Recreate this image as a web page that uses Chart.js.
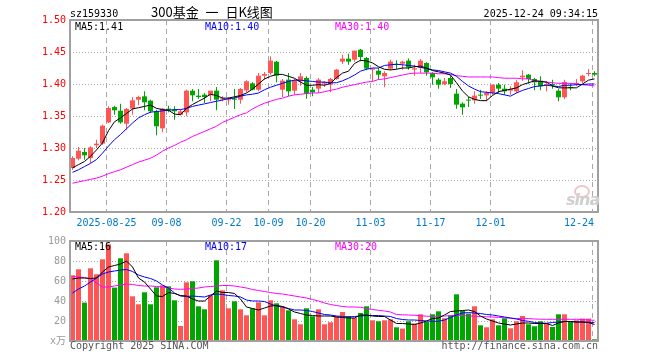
<!DOCTYPE html>
<html><head><meta charset="utf-8">
<script src="https://cdn.jsdelivr.net/npm/chart.js@4.4.1/dist/chart.umd.min.js"></script>
<style>
html,body{margin:0;padding:0;background:#fff;}
#wrap{position:relative;width:660px;height:360px;overflow:hidden;}
canvas{position:absolute;left:0;}
.t{position:absolute;white-space:pre;font-family:"DejaVu Sans Mono",monospace;font-size:10px;line-height:10px;color:#000;}
.cjk{font-family:"Noto Sans CJK SC",sans-serif;font-size:13px;line-height:13px;word-spacing:4px;}
</style></head>
<body><div id="wrap">
<canvas id="main" width="660" height="230" style="top:0"></canvas>
<canvas id="vol" width="660" height="130" style="top:230px"></canvas>
<div class="t" style="left:70px;top:8.5px">sz159330</div>
<div class="t cjk" style="left:151px;top:5px">300基金 一 日K线图</div>
<div class="t" style="right:62px;top:8.5px">2025-12-24 09:34:15</div>
<div class="t" style="left:75px;top:22px">MA5:1.41</div>
<div class="t" style="left:205px;top:22px;color:#0000ff">MA10:1.40</div>
<div class="t" style="left:335px;top:22px;color:#ff00ff">MA30:1.40</div>
<div class="t" style="left:75px;top:241.5px">MA5:16</div>
<div class="t" style="left:205px;top:241.5px;color:#0000ff">MA10:17</div>
<div class="t" style="left:335px;top:241.5px;color:#ff00ff">MA30:20</div>
<div class="t" style="left:70px;top:340.5px;color:#555">Copyright 2025 SINA.COM</div>
<div class="t" style="right:62px;top:340.5px;color:#555">http://finance.sina.com.cn</div>
<div style="position:absolute;left:574px;top:185px;width:12px;height:9px;border:2px solid #f3c4c4;border-radius:50%;"></div>
<div style="position:absolute;left:566px;top:190px;font:italic bold 16px 'DejaVu Sans',sans-serif;color:#cfcfcf;letter-spacing:-1px;">sina</div>
</div>
<script>
// ---- data ----
const dateTickIdx  = [6, 16, 26, 33, 40, 50, 60, 70, 87];
const dateTickText = ['2025-08-25','09-08','09-22','10-09','10-20','11-03','11-17','12-01','12-24'];
const priceTicks = [1.20, 1.25, 1.30, 1.35, 1.40, 1.45, 1.50];
const volTicks = [0, 20, 40, 60, 80, 100];
const volTickText = ['x万', '20', '40', '60', '80', '100'];

const opens = [1.2687,1.2833,1.2938,1.2844,1.3042,1.3068,1.3400,1.3640,1.3583,1.3380,
1.3615,1.3755,1.3807,1.3740,1.3573,1.3307,1.3615,1.3599,1.3520,1.3557,
1.3896,1.3818,1.3833,1.3823,1.3896,1.3760,1.3745,1.3766,1.3755,1.3901,
1.4010,1.3911,1.4130,1.4172,1.4349,1.3911,1.4068,1.3896,1.4042,1.4094,
1.3911,1.3927,1.4005,1.3990,1.4078,1.4349,1.4396,1.4380,1.4536,1.4406,
1.4224,1.4208,1.4120,1.4240,1.4313,1.4318,1.4365,1.4224,1.4250,1.4328,
1.4172,1.4068,1.4000,1.4094,1.3849,1.3693,1.3755,1.3745,1.3833,1.3823,
1.3860,1.3990,1.3927,1.3896,1.3885,1.4104,1.4146,1.4078,1.4052,1.3984,
1.4000,1.3896,1.3792,1.3953,1.4000,1.4042,1.4156,1.4172];
const closes = [1.2844,1.2958,1.2885,1.3010,1.3068,1.3349,1.3625,1.3589,1.3400,1.3610,
1.3745,1.3797,1.3714,1.3573,1.3339,1.3615,1.3589,1.3573,1.3573,1.3896,
1.3823,1.3797,1.3797,1.3896,1.3755,1.3776,1.3760,1.3755,1.3922,1.4042,
1.3911,1.4130,1.4156,1.4365,1.4130,1.4052,1.3885,1.4057,1.4120,1.3849,
1.3870,1.4068,1.4031,1.4078,1.4224,1.4396,1.4349,1.4521,1.4422,1.4240,
1.4234,1.4146,1.4172,1.4349,1.4297,1.4349,1.4260,1.4245,1.4365,1.4182,
1.4104,1.3990,1.4042,1.4000,1.3677,1.3635,1.3740,1.3818,1.3818,1.3860,
1.3990,1.3927,1.3885,1.3922,1.4026,1.4130,1.4078,1.4026,1.3964,1.4000,
1.3984,1.3792,1.4031,1.3938,1.4010,1.4130,1.4172,1.4146];
const highs = [1.2870,1.3016,1.3000,1.3026,1.3130,1.3365,1.3651,1.3660,1.3693,1.3625,
1.3797,1.3818,1.3885,1.3755,1.3599,1.3625,1.3661,1.3651,1.3599,1.3911,
1.3922,1.3922,1.3860,1.3896,1.3953,1.3807,1.3797,1.3922,1.3938,1.4057,
1.4026,1.4172,1.4188,1.4432,1.4360,1.4078,1.4172,1.4078,1.4172,1.4120,
1.3953,1.4094,1.4042,1.4094,1.4234,1.4458,1.4474,1.4521,1.4547,1.4422,
1.4245,1.4250,1.4198,1.4380,1.4370,1.4365,1.4400,1.4302,1.4390,1.4339,
1.4182,1.4094,1.4094,1.4130,1.3922,1.3714,1.3797,1.3885,1.3911,1.3885,
1.3990,1.4016,1.3990,1.3964,1.4057,1.4214,1.4156,1.4094,1.4120,1.4042,
1.4068,1.3922,1.4068,1.4016,1.4078,1.4146,1.4234,1.4198];
const lows = [1.2660,1.2807,1.2818,1.2766,1.3000,1.3052,1.3390,1.3520,1.3380,1.3286,
1.3520,1.3667,1.3589,1.3547,1.3198,1.3245,1.3557,1.3443,1.3510,1.3495,
1.3729,1.3766,1.3703,1.3729,1.3589,1.3729,1.3677,1.3610,1.3693,1.3870,
1.3901,1.3885,1.4068,1.4146,1.4026,1.3797,1.3807,1.3833,1.3974,1.3771,
1.3807,1.3859,1.3953,1.3870,1.4068,1.4313,1.4302,1.4349,1.4354,1.4214,
1.4042,1.4068,1.3948,1.4214,1.4234,1.4224,1.4224,1.4130,1.4172,1.4130,
1.3990,1.3927,1.3979,1.3938,1.3615,1.3520,1.3641,1.3693,1.3766,1.3729,
1.3833,1.3860,1.3833,1.3833,1.3860,1.4052,1.4005,1.3901,1.3901,1.3885,
1.3927,1.3729,1.3766,1.3901,1.3964,1.4016,1.4120,1.4120];
const ma5 = [1.269,1.274,1.279,1.287,1.297,1.308,1.327,1.341,1.347,1.354,
1.361,1.363,1.365,1.367,1.362,1.360,1.359,1.353,1.352,1.362,
1.368,1.373,1.378,1.384,1.382,1.378,1.378,1.380,1.382,1.386,
1.392,1.400,1.408,1.412,1.415,1.415,1.412,1.409,1.403,1.398,
1.398,1.399,1.398,1.401,1.410,1.417,1.420,1.432,1.437,1.436,
1.433,1.427,1.423,1.422,1.423,1.425,1.425,1.427,1.428,1.425,
1.421,1.419,1.417,1.414,1.402,1.389,1.380,1.376,1.374,1.374,
1.382,1.388,1.390,1.392,1.394,1.399,1.402,1.405,1.404,1.403,
1.397,1.394,1.394,1.394,1.394,1.400,1.406,1.408];
const ma10 = [1.262,1.266,1.271,1.276,1.282,1.292,1.303,1.313,1.321,1.330,
1.339,1.347,1.352,1.356,1.357,1.358,1.359,1.360,1.360,1.362,
1.365,1.367,1.369,1.371,1.373,1.375,1.377,1.378,1.381,1.383,
1.384,1.386,1.391,1.395,1.398,1.401,1.404,1.406,1.406,1.405,
1.404,1.403,1.403,1.402,1.402,1.405,1.409,1.414,1.420,1.423,
1.425,1.425,1.429,1.430,1.431,1.430,1.429,1.428,1.426,1.424,
1.422,1.421,1.419,1.417,1.412,1.404,1.397,1.392,1.388,1.387,
1.386,1.385,1.383,1.381,1.386,1.390,1.393,1.396,1.397,1.398,
1.397,1.396,1.398,1.398,1.399,1.399,1.400,1.400];
const ma30 = [1.245,1.247,1.249,1.251,1.253,1.256,1.260,1.263,1.266,1.270,
1.274,1.278,1.281,1.284,1.289,1.295,1.300,1.304,1.309,1.313,
1.318,1.322,1.326,1.330,1.334,1.340,1.344,1.348,1.352,1.355,
1.361,1.366,1.370,1.373,1.376,1.378,1.381,1.383,1.384,1.385,
1.386,1.386,1.388,1.390,1.392,1.395,1.397,1.399,1.401,1.403,
1.404,1.407,1.408,1.410,1.412,1.414,1.416,1.417,1.417,1.417,
1.417,1.416,1.416,1.415,1.413,1.412,1.411,1.411,1.411,1.411,
1.411,1.410,1.409,1.409,1.409,1.408,1.408,1.405,1.404,1.403,
1.402,1.401,1.401,1.401,1.400,1.399,1.398,1.397];
const volumes = [65.7,71.7,38.4,72.7,66.7,81.7,96.7,53.4,82.7,87.7,
44.7,36.7,48.7,36.7,53.7,55.7,54.7,40.7,15,58.7,
59.7,34.7,31.7,45.7,80.7,50.7,32.7,39.7,31.7,25.7,
32.7,38.7,25.7,40.7,37.7,34.7,30.7,21.7,16.7,32.7,
24.7,31.7,16.7,18.7,24.7,29,25,23,28,34.7,
20.7,19.7,20.7,21.7,13.7,12.4,19.7,17.4,26.7,19,
26.7,29.7,22.7,25.7,46.7,30,27.4,34.7,15.7,13.7,
21.7,15.7,22.7,12.7,19.7,25,16.7,14.7,19.7,18,
14,26.7,26.7,19,20.7,22.4,22.4,1.7];
const volMa5 = [62,63,63,62.5,63,69,74,75.5,77,80,
74,63,59,52,45,44.5,48.5,47.5,45.5,45,
42,40,40,45,50,48.5,48.5,47.5,42,34,
32.5,31,33,35,35.5,34.5,32,29,27.5,26,
25.5,25,25,25,24,23.5,23,23,26,26,
25,24.5,24.5,21,17.5,17.5,17,16.5,18,20,
22.5,23,26,29.5,30,30.5,31,29.5,25,22,
20,18,17,16,17,18,18,17.5,17.5,17.5,
15.5,18,19.5,19.5,19,19,18.5,16.5];
const volMa10 = [48,52,55,59,63,67,69,70,71,71.5,
69.5,66,64,62.5,60,56,53,48,45,44.5,
45,44.5,44,46,47,46.5,45.5,45,44,41,
40,40,39.5,37,35,34,32.5,31,31,30.5,
29.5,28,26.5,26,25,24.5,24,24.5,25,25.5,
25.5,25.5,25,24.5,22.5,21.5,21,21,20.5,20,
19.7,19.7,21,23.5,26,28,28.4,28,27.5,26.5,
26,25,24,23,22,20.5,19.7,18.5,18,17.8,
18.5,19,19.5,19.5,19,19,18.8,18.5];
const volMa30 = [64.5,64,63.5,62,58,54,54,55,56,57,
56.5,55.5,55,55,54.5,54,53,52,51.7,52,
52.5,53,54,54.5,55,55.5,55.5,55,54,53,
51.5,50.5,49.5,48.5,47.5,47,46,45,44,43,
41.5,40,38,36.5,35.5,34.5,34,34,33.7,32.5,
31.5,30.7,30,29,26.5,26.2,26,25.7,25.3,24.8,
24.7,24.7,25,25.3,25.7,25.5,25,24.8,24.5,24.2,
24,23.6,23.2,22.8,22.5,22.4,22.4,22,21.8,21.7,
21.7,21.7,21.7,21.7,21.7,21.5,21,20.7];

// ---- setup ----
const RED = '#ff5555', GREEN = '#00a600';
const idx = opens.map((_, i) => i);
const up = i => closes[i] >= opens[i];
const colors = idx.map(i => up(i) ? RED : GREEN);
const X_MIN = -5/12, X_MAX = 88 - 5/12;
const FONT = '"DejaVu Sans Mono", "Noto Sans CJK SC", monospace';

const deco = {
  id: 'deco',
  beforeDatasetsDraw(chart, args, opts) {
    const {ctx, chartArea: a, scales: {x, y}} = chart;
    ctx.save();
    ctx.lineWidth = 1;
    ctx.strokeStyle = '#a8a8a8';
    ctx.setLineDash([1, 2]);
    opts.hLines.forEach(v => {
      const py = Math.round(y.getPixelForValue(v)) + 0.5;
      ctx.beginPath(); ctx.moveTo(a.left, py); ctx.lineTo(a.right, py); ctx.stroke();
    });
    ctx.setLineDash([5, 4]);
    dateTickIdx.forEach(i => {
      const px = Math.floor(x.getPixelForValue(i - 1/3)) + 0.5;
      ctx.beginPath(); ctx.moveTo(px, a.top); ctx.lineTo(px, a.bottom); ctx.stroke();
    });
    ctx.restore();
  },
  afterDatasetsDraw(chart) {
    const {ctx, chartArea: a} = chart;
    ctx.save();
    ctx.strokeStyle = '#a0a0a0'; ctx.lineWidth = 2;
    ctx.strokeRect(a.left, a.top, a.right - a.left, a.bottom - a.top);
    ctx.restore();
  }
};
const dates = {
  id: 'dates',
  afterDraw(chart) {
    const {ctx, chartArea: a, scales: {x}} = chart;
    ctx.save();
    ctx.font = '10px ' + FONT; ctx.fillStyle = '#0078c8';
    ctx.textAlign = 'center'; ctx.textBaseline = 'alphabetic';
    dateTickIdx.forEach((i, k) => {
      const t = dateTickText[k];
      const w = ctx.measureText(t).width;
      let cx = x.getPixelForValue(i - 1/3);
      cx = Math.min(cx, a.right - 4 - w / 2);
      ctx.fillText(t, cx, 225.5);
    });
    ctx.restore();
  }
};

function lineDs(vals, color) {
  return {type: 'line', data: idx.map(i => ({x: i, y: vals[i]})), borderColor: color,
    borderWidth: 1, pointRadius: 0, tension: 0, order: 0};
}
const xScale = {type: 'linear', min: X_MIN, max: X_MAX, offset: false, display: false,
  grid: {offset: false}};
const common = {
  responsive: false, animation: false, devicePixelRatio: 1,
  plugins: {legend: {display: false}, tooltip: {enabled: false}}
};

new Chart(document.getElementById('main'), {
  type: 'bar',
  data: {datasets: [
    {data: idx.map(i => ({x: i, y: [lows[i], highs[i]]})), backgroundColor: colors,
      barThickness: 1, grouped: false, inflateAmount: 0, order: 2},
    {data: idx.map(i => ({x: i, y: [opens[i], closes[i]]})), backgroundColor: colors,
      barThickness: 5, minBarLength: 1, grouped: false, inflateAmount: 0, order: 1},
    lineDs(ma5, '#000000'), lineDs(ma10, '#0000ff'), lineDs(ma30, '#ff00ff')
  ]},
  options: Object.assign({}, common, {
    layout: {padding: {left: 0, right: 62, top: 20, bottom: 18}},
    scales: {
      x: xScale,
      y: {min: 1.2, max: 1.5,
        afterBuildTicks: s => { s.ticks = priceTicks.map(v => ({value: v})); },
        afterFit: s => { s.width = 70; },
        grid: {display: false, drawTicks: false}, border: {display: false},
        ticks: {color: '#ff0000', padding: 4, font: {family: FONT, size: 10},
          callback: v => v.toFixed(2)}}
    },
    plugins: Object.assign({}, common.plugins, {deco: {hLines: [1.25, 1.30, 1.35, 1.40, 1.45]}})
  }),
  plugins: [deco, dates]
});

new Chart(document.getElementById('vol'), {
  type: 'bar',
  data: {datasets: [
    {data: idx.map(i => ({x: i, y: volumes[i]})), backgroundColor: colors,
      barThickness: 5, grouped: false, inflateAmount: 0, order: 1},
    lineDs(volMa5, '#000000'), lineDs(volMa10, '#0000ff'), lineDs(volMa30, '#ff00ff')
  ]},
  options: Object.assign({}, common, {
    layout: {padding: {left: 0, right: 62, top: 11, bottom: 19}},
    scales: {
      x: xScale,
      y: {min: 0, max: 100,
        afterBuildTicks: s => { s.ticks = volTicks.map(v => ({value: v})); },
        afterFit: s => { s.width = 70; },
        grid: {display: false, drawTicks: false}, border: {display: false},
        ticks: {color: '#999999', padding: 4, font: {family: FONT, size: 10},
          callback: v => volTickText[volTicks.indexOf(v)]}}
    },
    plugins: Object.assign({}, common.plugins, {deco: {hLines: [20, 40, 60, 80]}})
  }),
  plugins: [deco]
});
</script>
</body></html>
